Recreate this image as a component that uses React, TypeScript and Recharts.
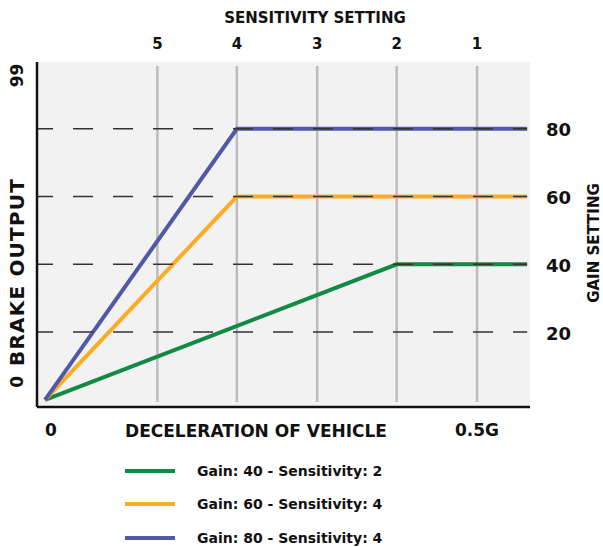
import React from "react";
import {
  LineChart,
  Line,
  XAxis,
  YAxis,
  ReferenceLine,
  CartesianGrid,
  Legend,
  Label,
} from "recharts";

// ---- data ----
const sensitivityLevels = [5, 4, 3, 2, 1];
const sensitivityPositions = [0.13, 0.222, 0.315, 0.407, 0.5]; // deceleration (G) of each sensitivity setting
const gainLevels = [20, 40, 60, 80];
const decelTicks = [0, 0.5];
const decelTickLabels = ["0", "0.5G"];
const outputTicks = [0, 99];

const gain40 = [
  { x: 0, y: 0 },
  { x: 0.407, y: 40 },
  { x: 0.558, y: 40 },
];
const gain60 = [
  { x: 0, y: 0 },
  { x: 0.222, y: 60 },
  { x: 0.558, y: 60 },
];
const gain80 = [
  { x: 0, y: 0 },
  { x: 0.222, y: 80 },
  { x: 0.558, y: 80 },
];
const seriesNames = [
  "Gain: 40 - Sensitivity: 2",
  "Gain: 60 - Sensitivity: 4",
  "Gain: 80 - Sensitivity: 4",
];
const seriesColors = ["#138a43", "#fcab24", "#5058a7"];

const X_DOMAIN: [number, number] = [-0.0093, 0.5613];
const Y_DOMAIN: [number, number] = [-2.1, 99.7];
const X_END = 0.558;

const FONT = "'DejaVu Sans', 'Liberation Sans', sans-serif";
const INK = "#111";

const TopTick = (props: any) => {
  const { x, y, payload } = props;
  const i = sensitivityPositions.indexOf(payload.value);
  return (
    <text x={x} y={y + 1} textAnchor="middle" dominantBaseline="central" fontFamily={FONT} fontWeight={700} fontSize={15} fill={INK}>
      {i >= 0 ? sensitivityLevels[i] : ""}
    </text>
  );
};

const BottomTick = (props: any) => {
  const { x, y, payload } = props;
  const i = decelTicks.indexOf(payload.value);
  return (
    <text x={x} y={y} textAnchor={i === 0 ? "start" : "middle"} dominantBaseline="central" fontFamily={FONT} fontWeight={700} fontSize={17} fill={INK}>
      {i >= 0 ? decelTickLabels[i] : ""}
    </text>
  );
};

const RightTick = (props: any) => {
  const { x, y, payload } = props;
  return (
    <text x={x} y={y + 1} textAnchor="start" dominantBaseline="central" fontFamily={FONT} fontWeight={700} fontSize={18} fill={INK}>
      {payload.value}
    </text>
  );
};

const LeftTick = (props: any) => {
  const { x, y, payload } = props;
  const yy = payload.value === 0 ? y - 18 : y + 11;
  return (
    <text
      x={x}
      y={yy}
      transform={`rotate(-90, ${x}, ${yy})`}
      textAnchor="middle"
      dominantBaseline="central"
      fontFamily={FONT}
      fontWeight={700}
      fontSize={17}
      fill={INK}
    >
      {payload.value}
    </text>
  );
};

const titleText = (x: number, y: number, text: string, size: number, rotate = false, spacing = 0) => (
  <text
    x={x}
    y={y}
    transform={rotate ? `rotate(-90, ${x}, ${y})` : undefined}
    textAnchor="middle"
    dominantBaseline="central"
    fontFamily={FONT}
    fontWeight={700}
    fontSize={size}
    letterSpacing={spacing}
    fill={INK}
  >
    {text}
  </text>
);

const renderLegend = (props: any) => {
  const { payload } = props;
  return (
    <div style={{ width: 0, height: 0, overflow: "visible" }}>
      <div style={{ display: "flex", flexDirection: "column", width: 320 }}>
        {(payload || []).map((p: any, i: number) => (
          <div key={i} style={{ height: 33.5, display: "flex", alignItems: "center" }}>
            <div style={{ width: 50, height: 4, background: p.color, flex: "none" }} />
            <span style={{ marginLeft: 22, fontFamily: FONT, fontWeight: 700, fontSize: 14, color: INK, whiteSpace: "nowrap" }}>
              {p.value}
            </span>
          </div>
        ))}
      </div>
    </div>
  );
};

export default function App() {
  const series = [gain40, gain60, gain80];
  return (
    <div style={{ position: "absolute", left: 0, top: 0 }}>
      <LineChart width={603} height={547} margin={{ top: 42, right: 53, bottom: 120, left: 17 }}>
        <CartesianGrid horizontal={false} vertical={false} fill="#f2f2f2" xAxisId="bottom" yAxisId="left" />
        <XAxis
          xAxisId="bottom"
          type="number"
          dataKey="x"
          domain={X_DOMAIN}
          allowDataOverflow
          ticks={decelTicks}
          height={20}
          tickLine={false}
          tickSize={0}
          tickMargin={23}
          axisLine={{ stroke: "#111", strokeWidth: 2.5 }}
          tick={BottomTick}
          interval={0}
        >
          <Label content={() => titleText(256, 431, "DECELERATION OF VEHICLE", 17)} />
        </XAxis>
        <XAxis
          xAxisId="top"
          orientation="top"
          type="number"
          dataKey="x"
          domain={X_DOMAIN}
          allowDataOverflow
          ticks={sensitivityPositions}
          height={20}
          tickLine={false}
          tickSize={0}
          tickMargin={19}
          axisLine={false}
          tick={TopTick}
          interval={0}
        >
          <Label content={() => titleText(315, 18, "SENSITIVITY SETTING", 15)} />
        </XAxis>
        <YAxis
          yAxisId="left"
          type="number"
          domain={Y_DOMAIN}
          allowDataOverflow
          ticks={outputTicks}
          width={20}
          tickLine={false}
          tickSize={0}
          tickMargin={20}
          axisLine={{ stroke: "#111", strokeWidth: 2.5 }}
          tick={LeftTick}
          interval={0}
        >
          <Label content={() => titleText(17, 272, "BRAKE OUTPUT", 20, true, 1.2)} />
        </YAxis>
        <YAxis
          yAxisId="right"
          orientation="right"
          type="number"
          domain={Y_DOMAIN}
          allowDataOverflow
          ticks={gainLevels}
          width={20}
          tickLine={false}
          tickSize={0}
          tickMargin={16}
          axisLine={false}
          tick={RightTick}
          interval={0}
        >
          <Label content={() => titleText(594, 243, "GAIN SETTING", 15, true)} />
        </YAxis>

        {sensitivityPositions.map((pos) => (
          <ReferenceLine
            key={`v${pos}`}
            xAxisId="bottom"
            yAxisId="left"
            segment={[
              { x: pos, y: -0.6 },
              { x: pos, y: 98.5 },
            ]}
            stroke="#bcbcbc"
            strokeWidth={2.5}
          />
        ))}

        {series.map((d, i) => (
          <Line
            key={seriesNames[i]}
            xAxisId="bottom"
            yAxisId="left"
            data={d}
            dataKey="y"
            name={seriesNames[i]}
            stroke={seriesColors[i]}
            strokeWidth={4}
            dot={false}
            activeDot={false}
            isAnimationActive={false}
            strokeLinejoin="miter"
          />
        ))}

        {gainLevels.map((g) => (
          <ReferenceLine
            key={`h${g}`}
            xAxisId="bottom"
            yAxisId="left"
            segment={[
              { x: X_DOMAIN[0], y: g },
              { x: X_END, y: g },
            ]}
            stroke="#333"
            strokeWidth={1.5}
            strokeDasharray="20 20"
            strokeDashoffset={4}
          />
        ))}

        <Legend
          content={renderLegend}
          layout="vertical"
          verticalAlign="bottom"
          align="left"
          wrapperStyle={{ left: 125, top: 454, bottom: "auto", width: 0, height: 0 }}
        />
      </LineChart>
    </div>
  );
}
